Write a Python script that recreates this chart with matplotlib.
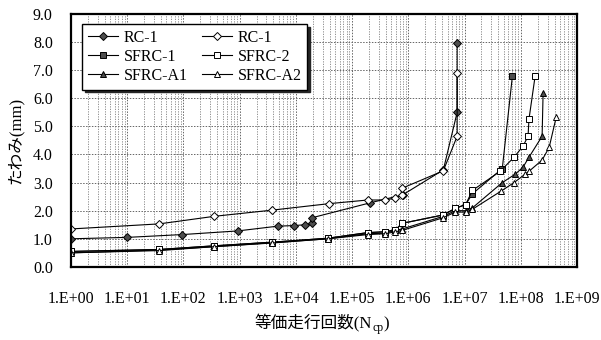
import matplotlib
matplotlib.use('Agg')
import matplotlib.pyplot as plt
from matplotlib.ticker import LogLocator, FixedLocator, NullFormatter

plt.rcParams['font.family'] = ['Liberation Serif', 'Noto Sans CJK JP', 'DejaVu Sans']

# RC-1 (filled diamond)
rc1a_n = [1, 10, 95, 930, 4.8e3, 9.3e3, 1.45e4, 1.95e4, 1.95e4, 2.1e5, 7.9e5, 4.2e6, 7.4e6, 7.4e6]
rc1a_d = [1.0, 1.05, 1.15, 1.28, 1.45, 1.47, 1.5, 1.55, 1.75, 2.28, 2.56, 3.45, 5.5, 7.95]

# RC-1 (open diamond)
rc1b_n = [1, 37, 355, 3.8e3, 3.9e4, 1.9e5, 3.9e5, 5.9e5, 7.8e5, 7.8e5, 4.2e6, 7.4e6, 7.4e6]
rc1b_d = [1.35, 1.53, 1.8, 2.02, 2.25, 2.38, 2.38, 2.45, 2.55, 2.8, 3.42, 4.65, 6.9]

# SFRC common early loading steps
base_n = [1, 37, 355, 3.8e3, 3.7e4, 1.9e5, 3.9e5, 5.9e5, 7.8e5, 4.2e6, 6.8e6, 1.05e7, 1.38e7]

sfrc1_n = base_n + [4.7e7, 7.1e7]
sfrc1_d = [0.55, 0.62, 0.75, 0.88, 1.02, 1.22, 1.25, 1.32, 1.55, 1.85, 2.08, 2.22, 2.6, 3.5, 6.78]

sfrc2_n = base_n + [4.3e7, 7.6e7, 1.1e8, 1.35e8, 1.4e8, 1.8e8]
sfrc2_d = [0.55, 0.62, 0.75, 0.88, 1.02, 1.22, 1.25, 1.32, 1.55, 1.85, 2.08, 2.22, 2.72,
           3.4, 3.9, 4.3, 4.65, 5.25, 6.78]

sfrca1_n = base_n + [4.7e7, 8e7, 1.1e8, 1.4e8, 2.4e8, 2.5e8]
sfrca1_d = [0.5, 0.6, 0.72, 0.86, 1.0, 1.18, 1.2, 1.3, 1.35, 1.8, 2.0, 2.0, 2.1,
            3.0, 3.3, 3.55, 3.9, 4.65, 6.2]

sfrca2_n = base_n + [4.5e7, 7.6e7, 1.2e8, 1.4e8, 2.4e8, 3.2e8, 4.3e8]
sfrca2_d = [0.5, 0.58, 0.72, 0.85, 1.0, 1.15, 1.18, 1.25, 1.3, 1.75, 1.95, 1.95, 2.05,
            2.7, 3.0, 3.3, 3.4, 3.8, 4.25, 5.35]

x_ticks = [10.0 ** k for k in range(10)]
x_tick_labels = ['1.E+%02d' % k for k in range(10)]
y_ticks = [i * 1.0 for i in range(10)]

fig = plt.figure(figsize=(6.01, 3.40), dpi=100)
ax = fig.add_axes([0.118, 0.215, 0.842, 0.744])

filled = '0.3'
common = dict(color='black', lw=0.8, markersize=5, markeredgecolor='black', markeredgewidth=0.7)
ax.plot(rc1a_n, rc1a_d, marker='D', markerfacecolor=filled, label='RC-1', **dict(common, markersize=4.2))
ax.plot(sfrc1_n, sfrc1_d, marker='s', markerfacecolor=filled, label='SFRC-1', **common)
ax.plot(sfrca1_n, sfrca1_d, marker='^', markerfacecolor=filled, label='SFRC-A1', **common)
ax.plot(rc1b_n, rc1b_d, marker='D', markerfacecolor='white', label='RC-1', **dict(common, markersize=4.2))
ax.plot(sfrc2_n, sfrc2_d, marker='s', markerfacecolor='white', label='SFRC-2', **common)
ax.plot(sfrca2_n, sfrca2_d, marker='^', markerfacecolor='white', label='SFRC-A2', **common)

ax.set_xscale('log')
ax.set_xlim(1, 1e9)
ax.set_ylim(0, 9)
ax.xaxis.set_major_locator(FixedLocator(x_ticks))
ax.set_xticklabels(x_tick_labels)
ax.xaxis.set_minor_locator(LogLocator(base=10, subs=range(2, 10), numticks=100))
ax.xaxis.set_minor_formatter(NullFormatter())
ax.set_yticks(y_ticks)
ax.set_yticklabels(['%.1f' % v for v in y_ticks])

ax.grid(True, which='major', axis='both', color='0.4', lw=0.7, ls=(0, (1.5, 1.5)))
ax.grid(True, which='minor', axis='x', color='0.5', lw=0.6, ls=(0, (1.5, 1.5)))
ax.set_axisbelow(True)

ax.tick_params(axis='both', which='both', length=0, labelsize=11.5)
ax.tick_params(axis='y', pad=13)
ax.tick_params(axis='x', pad=17)
for s in ax.spines.values():
    s.set_linewidth(1.6)

ax.set_ylabel('たわみ(mm)', fontsize=12, labelpad=7)

# x label built from pieces so the subscript works with the CJK font
fig.canvas.draw()
r = fig.canvas.get_renderer()
fs = 12
y0 = 12
t1 = fig.text(0, y0, '等価走行回数(N', fontsize=fs, transform=None)
t2 = fig.text(0, y0 - 3, 'cp', fontsize=8.5, transform=None)
t3 = fig.text(0, y0, ')', fontsize=fs, transform=None)
w1 = t1.get_window_extent(r).width
w2 = t2.get_window_extent(r).width
w3 = t3.get_window_extent(r).width
x0 = 322 - (w1 + w2 + w3) / 2
t1.set_x(x0)
t2.set_x(x0 + w1)
t3.set_x(x0 + w1 + w2)

leg = ax.legend(ncol=2, loc='upper left', bbox_to_anchor=(0.022, 0.96), borderaxespad=0,
                fontsize=11.5, frameon=True, fancybox=False, edgecolor='black', handlelength=1.9,
                columnspacing=0.9, labelspacing=0.2, borderpad=0.35, handletextpad=0.35,
                shadow={'color': '0.15', 'alpha': 1})
leg.get_frame().set_linewidth(1.0)
leg.get_frame().set_alpha(1)

fig.savefig('out.png', dpi=100)
